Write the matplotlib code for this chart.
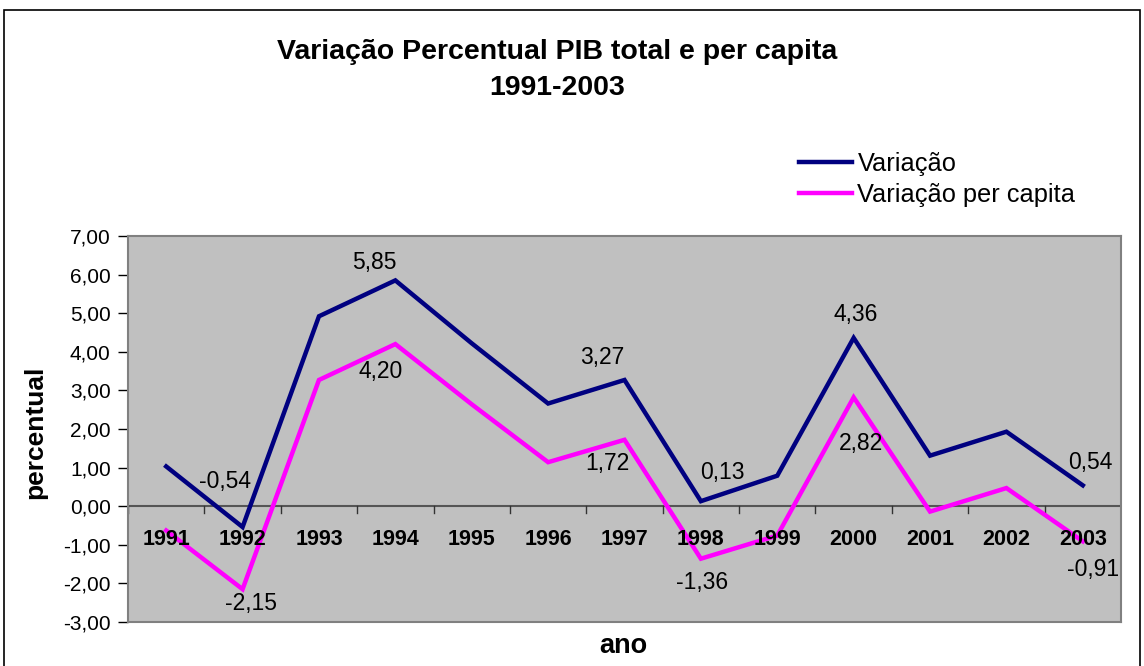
import matplotlib
matplotlib.use("Agg")
import matplotlib.pyplot as plt
from matplotlib.patches import Rectangle
from matplotlib.ticker import FuncFormatter

plt.rcParams['font.family'] = ['Liberation Sans', 'DejaVu Sans']

anos = ['1991', '1992', '1993', '1994', '1995', '1996', '1997', '1998', '1999', '2000', '2001', '2002', '2003']
variacao = [1.03, -0.54, 4.92, 5.85, 4.22, 2.66, 3.27, 0.13, 0.79, 4.36, 1.31, 1.93, 0.54]
variacao_pc = [-0.63, -2.15, 3.27, 4.20, 2.64, 1.14, 1.72, -1.36, -0.76, 2.82, -0.14, 0.47, -0.91]

# labelled points and their label offsets in pixels (dx, dy)
off_var = {1: (-18, 46), 3: (-21, 18), 6: (-22, 22), 7: (21, 29), 9: (2, 23), 12: (8, 23)}
off_pc = {1: (8, -14), 3: (-15, -27), 6: (-17, -24), 7: (1, -24), 9: (7, -46), 12: (10, -28)}

W, H = 1144, 666
fig = plt.figure(figsize=(W / 100, H / 100), dpi=100)
fig.patch.set_facecolor('white')

# outer chart border
fig.add_artist(Rectangle((4 / W, -0.01), (1140 - 4) / W, 1 - 10 / H + 0.01,
                         transform=fig.transFigure, fill=False,
                         edgecolor='black', linewidth=1.2))

ax = fig.add_axes([128 / W, (H - 622) / H, (1121 - 128) / W, (622 - 236) / H])
ax.set_facecolor('#C0C0C0')
for s in ax.spines.values():
    s.set_color('#808080')
    s.set_linewidth(1.5)

x = list(range(len(anos)))
ax.plot(x, variacao, color='#000080', lw=3.2, label='Variação', solid_joinstyle='miter')
ax.plot(x, variacao_pc, color='#FF00FF', lw=3.2, label='Variação per capita', solid_joinstyle='miter')

ax.set_xlim(-0.5, len(anos) - 0.5)
ax.set_ylim(-3, 7)
ax.set_yticks(range(-3, 8))
ax.yaxis.set_major_formatter(FuncFormatter(lambda v, p: f'{v:.2f}'.replace('.', ',')))
ax.tick_params(axis='y', labelsize=15, length=7, width=1, color='black', pad=5.5)

# x axis at zero with category-boundary ticks
ax.axhline(0, color='#555555', lw=1.5, zorder=1)
ax.set_xticks([])
for b in range(len(anos) + 1):
    ax.plot([b - 0.5, b - 0.5], [0, -0.18], color='#333333', lw=1, zorder=1)
for i, a in enumerate(anos):
    ax.text(i, -0.85, a, ha='center', va='center', fontsize=15.5, fontweight='bold', zorder=3)

def fmt(v):
    return f'{v:.2f}'.replace('.', ',')

for i, (dx, dy) in off_var.items():
    ax.annotate(fmt(variacao[i]), (i, variacao[i]), xytext=(dx * 0.72, dy * 0.72),
                textcoords='offset points', ha='center', va='center', fontsize=16.5)
for i, (dx, dy) in off_pc.items():
    ax.annotate(fmt(variacao_pc[i]), (i, variacao_pc[i]), xytext=(dx * 0.72, dy * 0.72),
                textcoords='offset points', ha='center', va='center', fontsize=16.5)

fig.text(35 / W, 1 - 432 / H, 'percentual', rotation=90, ha='center', va='center',
         fontsize=19, fontweight='bold')
fig.text(623 / W, 1 - 646 / H, 'ano', ha='center', va='center', fontsize=19.5, fontweight='bold')

fig.text(557 / W, 1 - 52 / H, 'Variação Percentual PIB total e per capita',
         ha='center', va='center', fontsize=20.5, fontweight='bold')
fig.text(557 / W, 1 - 88 / H, '1991-2003', ha='center', va='center', fontsize=20.5, fontweight='bold')

leg = fig.legend(loc='center left', bbox_to_anchor=(799 / W, 1 - 179.5 / H), frameon=False,
                 fontsize=18.3, handlelength=2.1, handletextpad=0.2, labelspacing=0.3,
                 borderaxespad=0, borderpad=0)

fig.savefig('out.png', dpi=100)
